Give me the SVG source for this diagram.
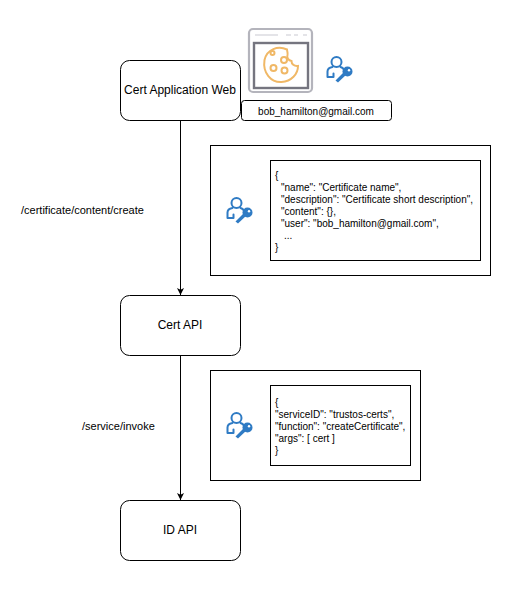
<svg xmlns="http://www.w3.org/2000/svg" xmlns:xlink="http://www.w3.org/1999/xlink" width="521" height="591" viewBox="0 0 521 591">
<style>
text{font-family:"Liberation Sans",Arial,sans-serif;fill:#000}
.node{fill:#fff;stroke:#000;stroke-width:1}
.c{font-size:12px;text-anchor:middle}
.s{font-size:10px}
.l{font-size:11px}
.conn{fill:none;stroke:#000;stroke-width:1}
.ik{fill:none;stroke:#2f7bc4;stroke-width:2;stroke-linecap:round;stroke-linejoin:round}
.ck{fill:none;stroke:#f0b866;stroke-width:2}
</style>
<defs>
<marker id="arr" markerUnits="userSpaceOnUse" markerWidth="10" markerHeight="10" refX="7" refY="3.500" orient="auto"><path d="M0 0L7 3.500L0 7L1.800 3.500Z" fill="#000"/></marker>
<symbol id="userkey" width="30" height="30" viewBox="0 0 30 30" overflow="visible">
<circle cx="11.500" cy="9" r="5" class="ik"/>
<path class="ik" d="M7.500 14C4.500 14.500 2.500 16 2.500 18.500V24H8.500V20.500M15.500 14C17 14.500 18 15 18.500 16"/>
<path d="M10.500 27.500L19.500 18.500L22 21L13 29.500Z" fill="#2f7bc4"/>
<circle cx="22.500" cy="18.500" r="5" fill="#2f7bc4"/>
<circle cx="24" cy="17.200" r="1.200" fill="#fff"/>
</symbol>
</defs>
<rect width="521" height="591" fill="#fff"/>
<g id="connectors">
<path class="conn" d="M180.500 120V295" marker-end="url(#arr)"/>
<path class="conn" d="M180.500 355V500" marker-end="url(#arr)"/>
</g>
<g id="node-web"><rect class="node" x="120.500" y="60.500" width="120" height="60" rx="9"/><text class="c" x="180" y="94">Cert Application Web</text></g>
<g id="node-cert-api"><rect class="node" x="120.500" y="295.500" width="120" height="60" rx="9"/><text class="c" x="180" y="329">Cert API</text></g>
<g id="node-id-api"><rect class="node" x="120.500" y="500.500" width="120" height="60" rx="9"/><text class="c" x="180" y="534">ID API</text></g>
<g id="label-create"><text class="l" x="21" y="214">/certificate/content/create</text></g>
<g id="label-invoke"><text class="l" x="82" y="430">/service/invoke</text></g>
<g id="node-cookie">
<rect x="249" y="29" width="63" height="63" rx="4" fill="#fff" stroke="#b4b4bc" stroke-width="2.200"/>
<rect x="254" y="43" width="54" height="45" fill="#fff" stroke="#75757f" stroke-width="2.400"/>
<path d="M255 35H278M286 35H291M294 35H298M303 35H307" stroke="#e4e4e8" stroke-width="2" fill="none"/>
<path class="ck" d="M287 49.500C278 45.500 267 49 264.500 60C262.500 73 271 82.500 281.500 82C291.500 81.500 298 74 298 66C294 66.500 291.500 64 291.500 61C288.500 60.500 286.500 58 287.500 55C288 52.500 287 51 287 49.500Z"/>
<circle class="ck" cx="272.500" cy="53" r="2"/><circle class="ck" cx="284" cy="60" r="3"/><circle class="ck" cx="273.500" cy="68" r="3"/><circle class="ck" cx="284.500" cy="70.500" r="3"/>
</g>
<g id="node-user-top"><use href="#userkey" xlink:href="#userkey" x="325" y="53"/></g>
<g id="node-email"><rect class="node" x="241.500" y="100.500" width="150" height="20" rx="3"/><text x="316" y="115" font-size="10px" text-anchor="middle">bob_hamilton@gmail.com</text></g>
<g id="node-cert-payload">
<rect x="210.500" y="145.500" width="280" height="130" fill="#fff" stroke="#000"/>
<use href="#userkey" xlink:href="#userkey" x="225" y="194"/>
<rect x="270.500" y="160.500" width="210" height="100" fill="#fff" stroke="#000"/>
<text class="s" x="275" y="179">{</text>
<text class="s" x="281" y="191">"name": "Certificate name",</text>
<text class="s" x="281" y="203">"description": "Certificate short description",</text>
<text class="s" x="281" y="215">"content": {},</text>
<text class="s" x="281" y="227">"user": "bob_hamilton@gmail.com",</text>
<text class="s" x="284" y="239">...</text>
<text class="s" x="275" y="251">}</text>
</g>
<g id="node-invoke-payload">
<rect x="210.500" y="370.500" width="210" height="110" fill="#fff" stroke="#000"/>
<use href="#userkey" xlink:href="#userkey" x="225" y="409"/>
<rect x="270.500" y="385.500" width="140" height="80" fill="#fff" stroke="#000"/>
<text class="s" x="275" y="406">{</text>
<text class="s" x="275" y="418">"serviceID": "trustos-certs",</text>
<text class="s" x="275" y="430">"function": "createCertificate",</text>
<text class="s" x="275" y="442">"args": [ cert ]</text>
<text class="s" x="275" y="454">}</text>
</g>
</svg>
